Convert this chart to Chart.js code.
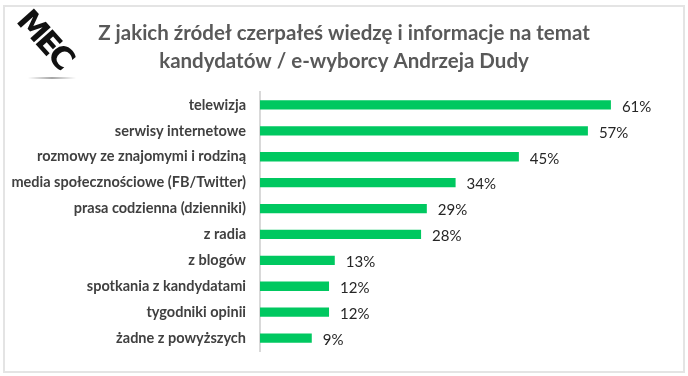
<!DOCTYPE html>
<html>
<head>
<meta charset="utf-8">
<script src="https://cdn.jsdelivr.net/npm/chart.js@4.4.1/dist/chart.umd.min.js"></script>
<style>
  html, body { margin:0; padding:0; background:#fff; }
  #wrap { position:relative; width:688px; height:376px; overflow:hidden; }
  #frame { position:absolute; left:3px; top:5px; width:678px; height:364px; border:2px solid #e4e4e4; }
  #logo { position:absolute; left:45px; top:39px; font-family:"DejaVu Sans", sans-serif; font-weight:900; font-size:31px; letter-spacing:-3px; color:#111; transform:translate(-50%,-50%) rotate(48deg); line-height:1; white-space:nowrap; }
  #shadow { position:absolute; left:28px; top:77px; width:48px; height:2px; background:linear-gradient(to right, rgba(0,0,0,0), rgba(0,0,0,0.35), rgba(0,0,0,0)); }
  canvas { position:absolute; left:0; top:0; }
</style>
</head>
<body>
<div id="wrap">
  <div id="frame"></div>
  <canvas id="c" width="688" height="376"></canvas>
  <div id="logo">MEC</div>
  <div id="shadow"></div>
</div>
<script>
const categories = [
  "telewizja",
  "serwisy internetowe",
  "rozmowy ze znajomymi i rodziną",
  "media społecznościowe (FB/Twitter)",
  "prasa codzienna (dzienniki)",
  "z radia",
  "z blogów",
  "spotkania z kandydatami",
  "tygodniki opinii",
  "żadne z powyższych"
];
const values = [61, 57, 45, 34, 29, 28, 13, 12, 12, 9];
const titleLines = [
  "Z jakich źródeł czerpałeś wiedzę i informacje na temat",
  "kandydatów / e-wyborcy Andrzeja Dudy"
];

const valueLabels = {
  id: 'valueLabels',
  afterDatasetsDraw(chart) {
    const ctx = chart.ctx;
    const meta = chart.getDatasetMeta(0);
    ctx.save();
    ctx.font = '15px Lato, sans-serif';
    ctx.fillStyle = '#262626';
    ctx.textAlign = 'left';
    ctx.textBaseline = 'middle';
    meta.data.forEach((bar, i) => {
      ctx.fillText(values[i] + '%', bar.x + 11, bar.y + 2);
    });
    ctx.restore();
  }
};

new Chart(document.getElementById('c'), {
  type: 'bar',
  data: {
    labels: categories,
    datasets: [{
      data: values,
      backgroundColor: '#00c860',
      borderWidth: 0,
      barPercentage: 0.72,
      categoryPercentage: 0.5
    }]
  },
  options: {
    indexAxis: 'y',
    responsive: false,
    animation: false,
    layout: { padding: { top: 0, bottom: 25, left: 0, right: 0 } },
    plugins: {
      legend: { display: false },
      tooltip: { enabled: false },
      title: {
        display: true,
        text: titleLines,
        color: '#595959',
        font: { family: 'Lato, sans-serif', size: 20.5, weight: 'bold', lineHeight: 1.366 },
        padding: { top: 19, bottom: 17 }
      }
    },
    scales: {
      x: {
        display: false,
        min: 0,
        max: 74.4
      },
      y: {
        afterFit(scale) { scale.width = 260; },
        grid: { display: false, drawTicks: false },
        border: { display: true, color: '#d9d9d9', width: 2 },
        ticks: {
          color: '#404040',
          padding: 14,
          font: { family: 'Lato, sans-serif', size: 14.5, weight: 'bold' }
        }
      }
    }
  },
  plugins: [valueLabels]
});
</script>
</body>
</html>
